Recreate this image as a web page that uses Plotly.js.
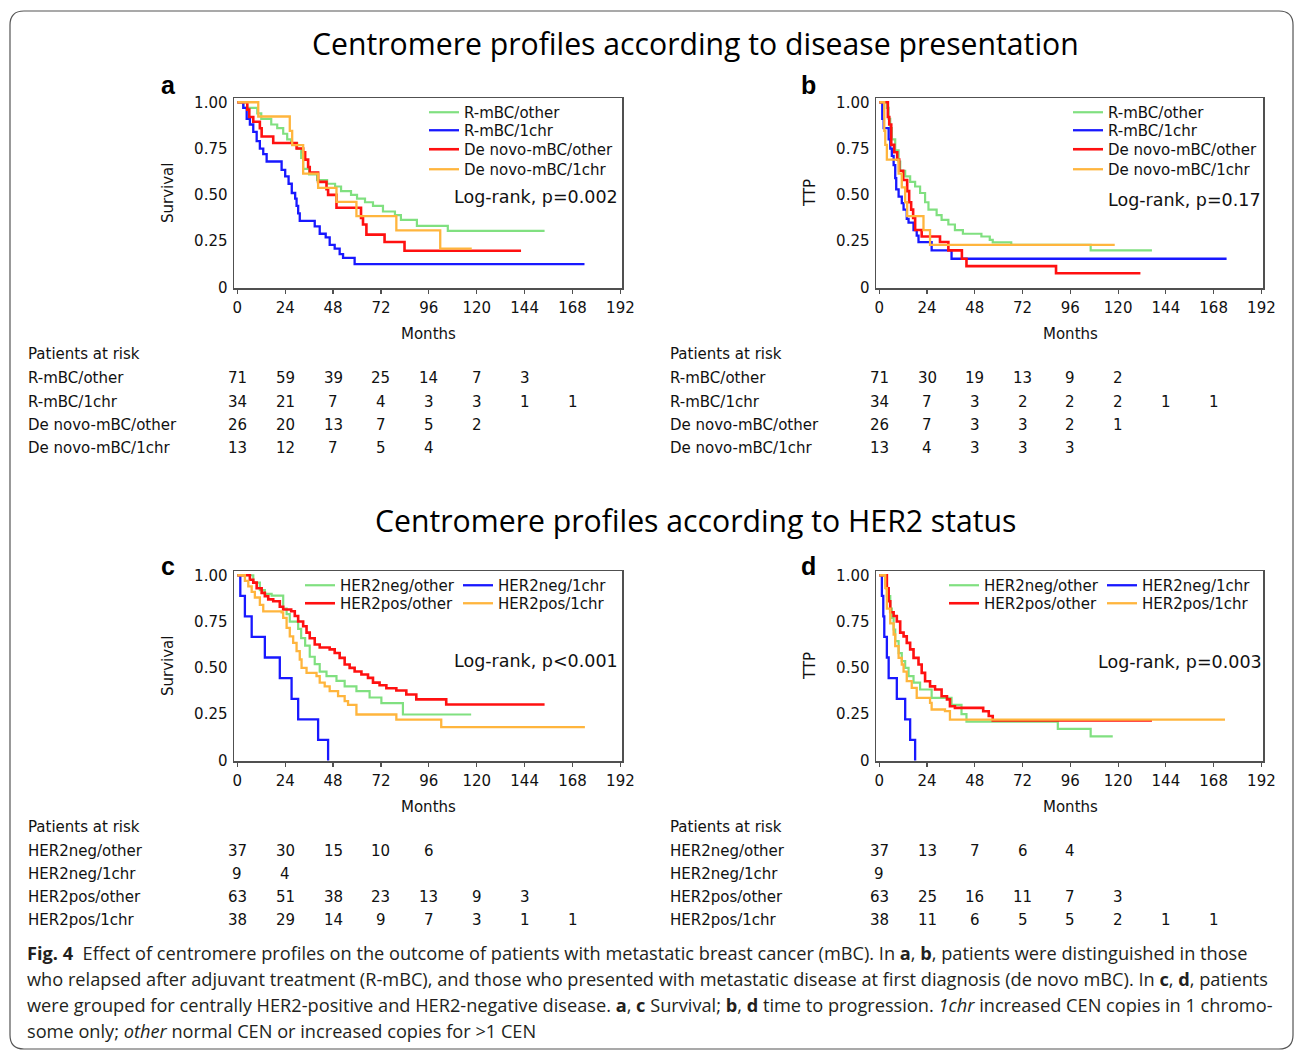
<!DOCTYPE html>
<html><head><meta charset="utf-8">
<script src="https://cdn.plot.ly/plotly-3.0.1.min.js"></script>
<style>html,body{margin:0;padding:0;background:#fff;} #chart{width:1295px;height:1050px;}</style>
</head><body><div id="chart"></div>
<script>
// ---------- Panel a: survival by disease presentation ----------
const aGreenT = [0, 3, 10, 12, 17, 20, 23, 25, 27, 30, 32, 33, 36, 40, 45, 49, 52, 57, 60, 64, 68, 73, 79, 82, 90, 105.5, 154];
const aGreenS = [1, 0.97, 0.94, 0.91, 0.88, 0.86, 0.83, 0.80, 0.78, 0.75, 0.70, 0.64, 0.61, 0.58, 0.56, 0.545, 0.52, 0.50, 0.48, 0.46, 0.44, 0.41, 0.39, 0.365, 0.333, 0.306, 0.306];
const aBlueT = [0, 3, 4.7, 6.3, 8, 9.7, 11.3, 13, 14.7, 22.2, 24, 25.7, 27.3, 29, 29.7, 30.5, 31.3, 38.8, 41.3, 44.3, 46.3, 48.8, 51.3, 53, 58.8, 174];
const aBlueS = [1, 0.97, 0.91, 0.88, 0.84, 0.79, 0.75, 0.72, 0.68, 0.635, 0.60, 0.56, 0.51, 0.48, 0.44, 0.40, 0.36, 0.33, 0.29, 0.27, 0.23, 0.21, 0.18, 0.16, 0.126, 0.126];
const aRedT = [0, 5, 6, 8, 11.3, 12.2, 18, 29.7, 33, 34, 35.5, 36.3, 40.5, 44.7, 45.5, 49.7, 62, 63, 64.7, 73.8, 83.8, 142.2];
const aRedS = [1, 0.96, 0.92, 0.895, 0.86, 0.815, 0.78, 0.75, 0.73, 0.69, 0.65, 0.62, 0.57, 0.53, 0.50, 0.43, 0.375, 0.34, 0.285, 0.245, 0.198, 0.198];
const aOrangeT = [0, 10.5, 26.3, 27.5, 33, 40.5, 49.7, 59.7, 79.7, 101.7, 117.5];
const aOrangeS = [1, 0.923, 0.846, 0.769, 0.615, 0.538, 0.462, 0.385, 0.308, 0.21, 0.21];

// ---------- Panel b: TTP by disease presentation ----------
const bGreenT = [0, 3.8, 4.7, 5.5, 6.3, 8, 9.7, 10.5, 13, 15.5, 18, 20.5, 23, 24.7, 28.8, 31.3, 34.7, 38, 42, 51.3, 55.5, 57, 66.3, 106.2, 137];
const bGreenS = [1, 0.97, 0.91, 0.86, 0.80, 0.74, 0.68, 0.63, 0.60, 0.57, 0.545, 0.51, 0.46, 0.42, 0.39, 0.365, 0.34, 0.31, 0.29, 0.275, 0.257, 0.243, 0.23, 0.20, 0.20];
const bBlueT = [0, 1.5, 2.2, 4.7, 5.5, 6.3, 7.2, 8, 8.5, 9.7, 11.3, 12.2, 13.8, 14.7, 17.2, 18.8, 19.7, 26.3, 36.3, 174.5];
const bBlueS = [1, 0.91, 0.86, 0.80, 0.75, 0.71, 0.66, 0.59, 0.53, 0.49, 0.455, 0.42, 0.37, 0.35, 0.31, 0.28, 0.245, 0.20, 0.155, 0.155];
const bRedT = [0, 4.3, 5, 6, 7.5, 9, 10, 12, 14, 15, 16, 17, 18, 21.3, 30.5, 34.7, 41.5, 43.8, 88.8, 131.2];
const bRedS = [1, 0.92, 0.88, 0.77, 0.73, 0.69, 0.63, 0.58, 0.52, 0.46, 0.42, 0.375, 0.31, 0.275, 0.245, 0.20, 0.155, 0.115, 0.077, 0.077];
const bOrangeT = [0, 2.5, 3, 3.8, 9.7, 11.3, 13, 14, 22.2, 25.5, 118.3];
const bOrangeS = [1, 0.846, 0.77, 0.69, 0.615, 0.54, 0.46, 0.385, 0.31, 0.23, 0.23];

// ---------- Panel c: survival by HER2 status ----------
const cGreenT = [0, 8, 11.3, 13.8, 17.2, 23, 24.7, 26.3, 30.5, 32, 34, 36.3, 38.8, 41.3, 44.7, 49.7, 53.8, 59.7, 66.3, 72.2, 83, 117.2];
const cGreenS = [1, 0.96, 0.92, 0.90, 0.89, 0.82, 0.79, 0.75, 0.71, 0.66, 0.62, 0.56, 0.52, 0.48, 0.455, 0.43, 0.40, 0.374, 0.34, 0.31, 0.248, 0.248];
const cBlueT = [0, 1.5, 3.8, 7.2, 13.8, 21.3, 27.2, 30.5, 40.5, 45.5];
const cBlueS = [1, 0.889, 0.778, 0.667, 0.556, 0.444, 0.333, 0.222, 0.111, 0];
const cRedT = [0, 6.3, 8, 9.7, 12.2, 13.8, 15.5, 18, 21.3, 23, 27, 28.8, 30.5, 33, 34.7, 36.3, 38.8, 41.3, 46.3, 48.8, 51.3, 53.8, 56.3, 58.8, 62.2, 65.5, 68, 71.3, 74.7, 79.7, 84.7, 89.7, 104.7, 154];
const cRedS = [1, 0.976, 0.96, 0.93, 0.905, 0.887, 0.87, 0.86, 0.83, 0.815, 0.806, 0.78, 0.75, 0.725, 0.69, 0.66, 0.626, 0.61, 0.60, 0.58, 0.554, 0.518, 0.50, 0.48, 0.464, 0.446, 0.42, 0.406, 0.39, 0.378, 0.356, 0.33, 0.302, 0.302];
const cOrangeT = [0, 3.8, 5.5, 7.2, 8.8, 11.3, 13, 22.2, 23, 24.7, 26.3, 28, 29.7, 31.3, 32.2, 34.7, 39.7, 41.3, 43.8, 46.3, 50.5, 53.8, 55.5, 59.7, 79.7, 102.2, 174.2];
const cOrangeS = [1, 0.97, 0.94, 0.91, 0.88, 0.84, 0.805, 0.80, 0.77, 0.716, 0.67, 0.635, 0.59, 0.545, 0.50, 0.473, 0.455, 0.42, 0.40, 0.374, 0.347, 0.32, 0.30, 0.248, 0.22, 0.18, 0.18];

// ---------- Panel d: TTP by HER2 status ----------
const dGreenT = [0, 3, 3.8, 5.5, 6.3, 7.2, 8, 9.7, 11.3, 13, 14.7, 17.2, 20.5, 26.3, 36.3, 41.3, 43.8, 89.7, 106.2, 117.3];
const dGreenS = [1, 0.95, 0.887, 0.82, 0.77, 0.707, 0.644, 0.58, 0.536, 0.50, 0.455, 0.42, 0.383, 0.338, 0.30, 0.25, 0.21, 0.17, 0.13, 0.13];
const dBlueT = [0, 1.3, 2, 2.5, 3.8, 4.7, 8.8, 13, 15.5, 18];
const dBlueS = [1, 0.889, 0.778, 0.667, 0.556, 0.444, 0.333, 0.222, 0.111, 0];
const dRedT = [0, 3.8, 4.7, 5.5, 7.2, 8.8, 10.5, 12.2, 13.8, 15.5, 17.2, 19.7, 21.3, 23, 25.5, 28, 31.3, 34, 35.5, 38, 52.2, 55, 57, 137];
const dRedS = [1, 0.93, 0.86, 0.80, 0.78, 0.75, 0.69, 0.67, 0.635, 0.60, 0.554, 0.518, 0.473, 0.428, 0.40, 0.383, 0.347, 0.33, 0.293, 0.284, 0.266, 0.24, 0.216, 0.216];
const dOrangeT = [0, 3, 3.8, 5.5, 7.2, 8, 9.7, 11.3, 12.2, 13.8, 16.3, 18.8, 25.5, 26.3, 33, 35.5, 173.7];
const dOrangeS = [1, 0.93, 0.82, 0.74, 0.68, 0.617, 0.554, 0.518, 0.48, 0.428, 0.392, 0.338, 0.311, 0.275, 0.266, 0.22, 0.22];

// ---------- Names, ticks, risk tables ----------
const namesTop = ['R-mBC/other', 'R-mBC/1chr', 'De novo-mBC/other', 'De novo-mBC/1chr'];
const namesBottom = ['HER2neg/other', 'HER2neg/1chr', 'HER2pos/other', 'HER2pos/1chr'];
const monthTicks = [0, 24, 48, 72, 96, 120, 144, 168, 192];
const survTicks = [0, 0.25, 0.5, 0.75, 1];
const survTickText = ['0', '0.25', '0.50', '0.75', '1.00'];
const riskTimes = [0, 24, 48, 72, 96, 120, 144, 168];

const riskA1 = [71, 59, 39, 25, 14, 7, 3];
const riskA2 = [34, 21, 7, 4, 3, 3, 1, 1];
const riskA3 = [26, 20, 13, 7, 5, 2];
const riskA4 = [13, 12, 7, 5, 4];
const riskB1 = [71, 30, 19, 13, 9, 2];
const riskB2 = [34, 7, 3, 2, 2, 2, 1, 1];
const riskB3 = [26, 7, 3, 3, 2, 1];
const riskB4 = [13, 4, 3, 3, 3];
const riskC1 = [37, 30, 15, 10, 6];
const riskC2 = [9, 4];
const riskC3 = [63, 51, 38, 23, 13, 9, 3];
const riskC4 = [38, 29, 14, 9, 7, 3, 1, 1];
const riskD1 = [37, 13, 7, 6, 4];
const riskD2 = [9];
const riskD3 = [63, 25, 16, 11, 7, 3];
const riskD4 = [38, 11, 6, 5, 5, 2, 1, 1];

const logRankA = 'Log-rank, p=0.002';
const logRankB = 'Log-rank, p=0.17';
const logRankC = 'Log-rank, p&lt;0.001';
const logRankD = 'Log-rank, p=0.003';

// ---------- helpers ----------
const W = 1295, H = 1050;
const px = p => p / W;
const py = p => 1 - p / H;
const COL = {green: '#80e080', blue: '#1818ff', red: '#ff1010', orange: '#ffb53d'};
const FONT = 'DejaVu Sans, Verdana, sans-serif';

function km(t, s, name, color, ax, legend, width) {
  return {
    type: 'scatter', mode: 'lines', x: t, y: s, name: name,
    xaxis: ax[0], yaxis: ax[1], legend: legend,
    line: {shape: 'hv', color: color, width: width || 2.2},
    hoverinfo: 'skip'
  };
}

const traces = [
  km(aGreenT, aGreenS, namesTop[0], COL.green, ['x', 'y'], 'legend', 2.2),
  km(aBlueT, aBlueS, namesTop[1], COL.blue, ['x', 'y'], 'legend2', 2.3),
  km(aRedT, aRedS, namesTop[2], COL.red, ['x', 'y'], 'legend3', 2.6),
  km(aOrangeT, aOrangeS, namesTop[3], COL.orange, ['x', 'y'], 'legend4', 2.3),
  km(bGreenT, bGreenS, namesTop[0], COL.green, ['x2', 'y2'], 'legend5', 2.2),
  km(bBlueT, bBlueS, namesTop[1], COL.blue, ['x2', 'y2'], 'legend6', 2.3),
  km(bRedT, bRedS, namesTop[2], COL.red, ['x2', 'y2'], 'legend7', 2.6),
  km(bOrangeT, bOrangeS, namesTop[3], COL.orange, ['x2', 'y2'], 'legend8', 2.3),
  km(cGreenT, cGreenS, namesBottom[0], COL.green, ['x3', 'y3'], 'legend9', 2.2),
  km(cBlueT, cBlueS, namesBottom[1], COL.blue, ['x3', 'y3'], 'legend9', 2.3),
  km(cRedT, cRedS, namesBottom[2], COL.red, ['x3', 'y3'], 'legend10', 2.6),
  km(cOrangeT, cOrangeS, namesBottom[3], COL.orange, ['x3', 'y3'], 'legend10', 2.3),
  km(dGreenT, dGreenS, namesBottom[0], COL.green, ['x4', 'y4'], 'legend11', 2.2),
  km(dBlueT, dBlueS, namesBottom[1], COL.blue, ['x4', 'y4'], 'legend11', 2.3),
  km(dRedT, dRedS, namesBottom[2], COL.red, ['x4', 'y4'], 'legend12', 2.6),
  km(dOrangeT, dOrangeS, namesBottom[3], COL.orange, ['x4', 'y4'], 'legend12', 2.3)
];

function xAxis(l, r) {
  return {
    domain: [px(l), px(r)], range: [-1.66, 192.8], tickvals: monthTicks,
    showline: true, mirror: true, linecolor: '#505050', linewidth: 1.5,
    ticks: 'outside', ticklen: 4, tickcolor: '#505050', tickwidth: 1.2,
    showgrid: false, zeroline: false, fixedrange: true, ticklabelstandoff: 1,
    tickfont: {family: FONT, size: 15, color: '#111'}
  };
}
function yAxis(top, bottom, anchor) {
  return {
    domain: [py(bottom), py(top)], range: [-0.003, 1.023], anchor: anchor,
    tickvals: survTicks, ticktext: survTickText,
    showline: true, mirror: true, linecolor: '#505050', linewidth: 1.5,
    ticks: '', showgrid: false, zeroline: false, fixedrange: true, ticklabelstandoff: 2,
    tickfont: {family: FONT, size: 15, color: '#111'}
  };
}

const layout = {
  width: W, height: H, margin: {l: 0, r: 0, t: 0, b: 0},
  paper_bgcolor: '#fff', plot_bgcolor: '#fff', showlegend: true,
  xaxis: Object.assign(xAxis(234, 622), {anchor: 'y'}),
  yaxis: yAxis(98, 288, 'x'),
  xaxis2: Object.assign(xAxis(876, 1263), {anchor: 'y2'}),
  yaxis2: yAxis(98, 288, 'x2'),
  xaxis3: Object.assign(xAxis(234, 622), {anchor: 'y3'}),
  yaxis3: yAxis(571, 761, 'x3'),
  xaxis4: Object.assign(xAxis(876, 1263), {anchor: 'y4'}),
  yaxis4: yAxis(571, 761, 'x4'),
  annotations: [], shapes: []
};

// one legend per legend row (row centre = top + 16 px)
const legBase = {bgcolor: 'rgba(0,0,0,0)', borderwidth: 0, font: {family: FONT, size: 15, color: '#111'},
  xanchor: 'left', yanchor: 'top', tracegroupgap: 0, itemclick: false, itemdoubleclick: false};
const legRowsTop = [112, 130, 149, 169];
['legend', 'legend2', 'legend3', 'legend4'].forEach((id, i) => {
  layout[id] = Object.assign({}, legBase, {x: px(424), y: py(legRowsTop[i] - 16), orientation: 'v'});
});
['legend5', 'legend6', 'legend7', 'legend8'].forEach((id, i) => {
  layout[id] = Object.assign({}, legBase, {x: px(1068), y: py(legRowsTop[i] - 16), orientation: 'v'});
});
layout.legend9 = Object.assign({}, legBase, {x: px(300), y: py(585 - 16), orientation: 'h', entrywidth: 113});
layout.legend10 = Object.assign({}, legBase, {x: px(300), y: py(603 - 16), orientation: 'h', entrywidth: 113});
layout.legend11 = Object.assign({}, legBase, {x: px(944), y: py(585 - 16), orientation: 'h', entrywidth: 113});
layout.legend12 = Object.assign({}, legBase, {x: px(944), y: py(603 - 16), orientation: 'h', entrywidth: 113});

function ann(text, x, y, opts) {
  layout.annotations.push(Object.assign({
    text: text, x: x, y: y, xref: 'paper', yref: 'paper', showarrow: false,
    xanchor: 'left', yanchor: 'middle', font: {family: FONT, size: 15, color: '#111'}
  }, opts || {}));
}

// section titles
const titleFont = {family: 'Open Sans, sans-serif', size: 30.2, color: '#000'};
ann('Centromere profiles according to disease presentation', px(695), py(43), {xanchor: 'center', font: titleFont});
ann('Centromere profiles according to HER2 status', px(695), py(520), {xanchor: 'center', font: titleFont});

// panel letters
const letterFont = {family: 'Liberation Sans, Arial, sans-serif', size: 25, color: '#000', weight: 'bold'};
ann('<b>a</b>', px(168), py(85), {xanchor: 'center', font: letterFont});
ann('<b>b</b>', px(808), py(85), {xanchor: 'center', font: letterFont});
ann('<b>c</b>', px(168), py(566), {xanchor: 'center', font: letterFont});
ann('<b>d</b>', px(808), py(566), {xanchor: 'center', font: letterFont});

// axis titles
ann('Survival', px(168), py(193), {xanchor: 'center', textangle: -90});
ann('TTP', px(810), py(193), {xanchor: 'center', textangle: -90});
ann('Survival', px(168), py(666), {xanchor: 'center', textangle: -90});
ann('TTP', px(810), py(666), {xanchor: 'center', textangle: -90});
ann('Months', px(428), py(334), {xanchor: 'center'});
ann('Months', px(1070), py(334), {xanchor: 'center'});
ann('Months', px(428), py(807), {xanchor: 'center'});
ann('Months', px(1070), py(807), {xanchor: 'center'});

// log-rank labels
const lrFont = {family: FONT, size: 17.5, color: '#111'};
ann(logRankA, px(452), py(197), {font: lrFont});
ann(logRankB, px(1106), py(200), {font: lrFont});
ann(logRankC, px(452), py(661), {font: lrFont});
ann(logRankD, px(1096), py(662), {font: lrFont});

// risk tables
function riskTable(xref, labelX, headerY, rowYs, names, rows) {
  ann('Patients at risk', px(labelX), py(headerY));
  rows.forEach((vals, i) => {
    ann(names[i], px(labelX), py(rowYs[i]));
    vals.forEach((v, j) => {
      layout.annotations.push({
        text: String(v), x: riskTimes[j], y: py(rowYs[i]), xref: xref, yref: 'paper',
        showarrow: false, xanchor: 'center', yanchor: 'middle',
        font: {family: FONT, size: 15, color: '#111'}
      });
    });
  });
}
riskTable('x', 26, 354, [378, 402, 425, 448], namesTop, [riskA1, riskA2, riskA3, riskA4]);
riskTable('x2', 668, 354, [378, 402, 425, 448], namesTop, [riskB1, riskB2, riskB3, riskB4]);
riskTable('x3', 26, 827, [851, 874, 897, 920], namesBottom, [riskC1, riskC2, riskC3, riskC4]);
riskTable('x4', 668, 827, [851, 874, 897, 920], namesBottom, [riskD1, riskD2, riskD3, riskD4]);

// caption
const capFont = {family: 'Open Sans, sans-serif', size: 18.2, color: '#231f20'};
const captionLines = [
  '<b>Fig. 4</b>\u00a0\u00a0Effect of centromere profiles on the outcome of patients with metastatic breast cancer (mBC). In <b>a</b>, <b>b</b>, patients were distinguished in those',
  'who relapsed after adjuvant treatment (R-mBC), and those who presented with metastatic disease at first diagnosis (de novo mBC). In <b>c</b>, <b>d</b>, patients',
  'were grouped for centrally HER2-positive and HER2-negative disease. <b>a</b>, <b>c</b> Survival; <b>b</b>, <b>d</b> time to progression. <i>1chr</i> increased CEN copies in 1 chromo-',
  'some only; <i>other</i> normal CEN or increased copies for &gt;1 CEN'
];
const captionYs = [953, 979, 1005, 1031];
captionLines.forEach((t, i) => ann(t, px(25), py(captionYs[i]), {font: capFont}));

// rounded outer frame
(function () {
  const x0 = 10, y0 = 11, x1 = 1293, y1 = 1049, r = 14;
  const P = (x, y) => px(x).toFixed(5) + ',' + py(y).toFixed(5);
  const path = 'M' + P(x0 + r, y0) + ' L' + P(x1 - r, y0) + ' Q' + P(x1, y0) + ' ' + P(x1, y0 + r) +
    ' L' + P(x1, y1 - r) + ' Q' + P(x1, y1) + ' ' + P(x1 - r, y1) +
    ' L' + P(x0 + r, y1) + ' Q' + P(x0, y1) + ' ' + P(x0, y1 - r) +
    ' L' + P(x0, y0 + r) + ' Q' + P(x0, y0) + ' ' + P(x0 + r, y0) + ' Z';
  layout.shapes.push({type: 'path', xref: 'paper', yref: 'paper', path: path,
    line: {color: '#555', width: 1.2}, fillcolor: 'rgba(0,0,0,0)', layer: 'below'});
})();

Plotly.newPlot('chart', traces, layout, {displayModeBar: false, staticPlot: true});
</script>
</body></html>
